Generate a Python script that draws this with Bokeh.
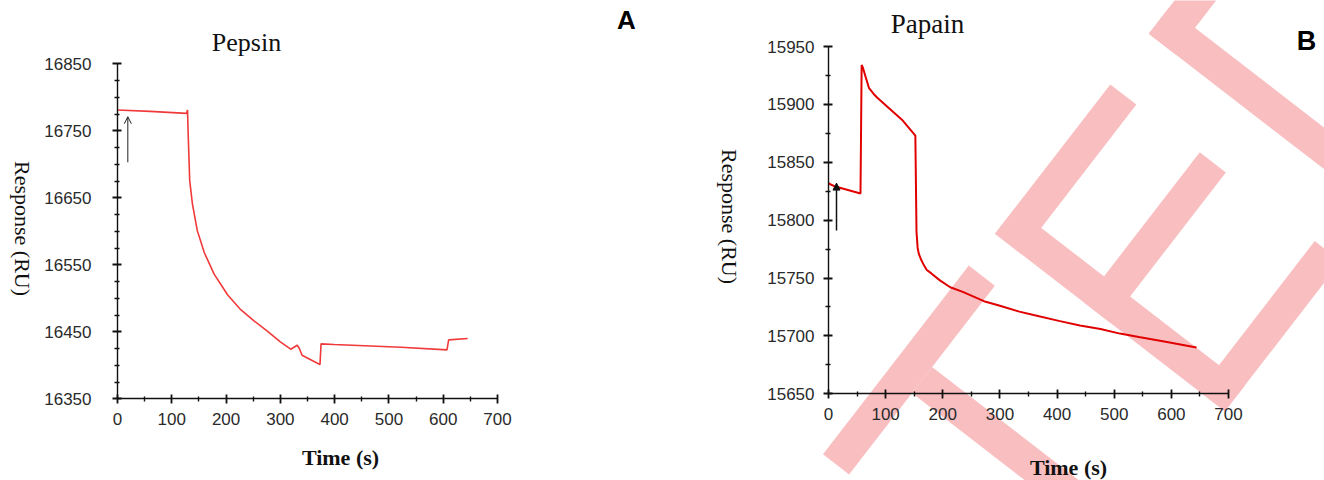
import math
from bokeh.plotting import figure
from bokeh.layouts import row
from bokeh.models import (Label, PolyAnnotation, Arrow, OpenHead, NormalHead,
                          FixedTicker, Range1d, BasicTickFormatter, LinearAxis)
from bokeh.embed import file_html
from bokeh.resources import INLINE

# ---------------- data ----------------
pepsin_time = [0, 60, 127, 129, 130, 133, 138, 147, 160, 178, 203, 227, 252, 276,
               300, 319, 331, 335, 340, 371, 373, 375, 399, 522, 607, 610, 645]
pepsin_resp = [16781, 16779, 16776, 16781, 16750, 16676, 16641, 16601, 16568, 16536,
               16505, 16483, 16466, 16451, 16435, 16424, 16430, 16425, 16415, 16402,
               16401, 16432, 16431, 16427, 16423, 16438, 16440]

papain_time = [0, 3, 12, 56, 58, 60, 66, 71, 79, 85, 103, 130, 152, 154, 156, 158,
               162, 166, 172, 180, 195, 213, 235, 272, 300, 334, 359, 403, 440, 476,
               510, 543, 590, 644]
papain_resp = [15832, 15831, 15829, 15823, 15934, 15932, 15922, 15914, 15909, 15906,
               15898, 15886, 15873, 15790, 15776, 15771, 15766, 15762, 15757, 15754,
               15748, 15742, 15738, 15730, 15726, 15721, 15718, 15713, 15709, 15706,
               15702, 15699, 15695, 15690]

pepsin_arrow = dict(x=19, y0=16703, y1=16771)
papain_arrow = dict(x=14, y0=15791, y1=15832)

time_ticks = [0, 100, 200, 300, 400, 500, 600, 700]
time_minor = [50, 150, 250, 350, 450, 550, 650]
pepsin_ticks = [16350, 16450, 16550, 16650, 16750, 16850]
pepsin_minor = [16375, 16400, 16425, 16475, 16500, 16525, 16575, 16600, 16625,
                16675, 16700, 16725, 16775, 16800, 16825]
papain_ticks = [15650, 15700, 15750, 15800, 15850, 15900, 15950]
papain_minor = [15675, 15725, 15775, 15825, 15875, 15925]

TICK_FONT = "Liberation Sans"
SERIF = "Liberation Serif"
H = 480          # canvas height
TOP, BOT = 0, H


def lin(v0, p0, v1, p1, p):
    return v0 + (p - p0) * (v1 - v0) / (p1 - p0)


def make_panel(cx0, width, xv, xpx, yv, ypx, yticks, yminor, ystandoff):
    """xv/yv: data ends; xpx/ypx: where those ends sit on the page."""
    cx1 = cx0 + width
    xr = Range1d(lin(xv[0], xpx[0], xv[1], xpx[1], cx0), lin(xv[0], xpx[0], xv[1], xpx[1], cx1))
    yr = Range1d(lin(yv[0], ypx[0], yv[1], ypx[1], BOT), lin(yv[0], ypx[0], yv[1], ypx[1], TOP))
    p = figure(width=width, height=H, output_backend="svg", toolbar_location=None,
               x_range=xr, y_range=yr, x_axis_type=None, y_axis_type=None,
               min_border=0, min_border_left=0, min_border_right=0,
               min_border_top=0, min_border_bottom=0)
    p.outline_line_color = None
    p.background_fill_color = "white"
    p.border_fill_color = "white"
    xa = LinearAxis(fixed_location=yv[0], bounds=tuple(xv),
                    ticker=FixedTicker(ticks=time_ticks, minor_ticks=time_minor))
    ya = LinearAxis(fixed_location=xv[0], bounds=tuple(yv),
                    ticker=FixedTicker(ticks=yticks, minor_ticks=yminor),
                    formatter=BasicTickFormatter(use_scientific=False))
    for ax in (xa, ya):
        ax.axis_line_color = "#111111"
        ax.axis_line_width = 1.4
        ax.major_tick_line_color = "#111111"
        ax.major_tick_line_width = 1.8
        ax.minor_tick_line_color = "#111111"
        ax.minor_tick_line_width = 1.4
        ax.major_tick_in = 4
        ax.major_tick_out = 5
        ax.minor_tick_in = 2
        ax.minor_tick_out = 3
        ax.major_label_text_font = TICK_FONT
        ax.major_label_text_font_size = "17px"
        ax.major_label_text_color = "#2a2a2a"
    xa.major_label_standoff = 9
    ya.major_label_standoff = ystandoff
    p.add_layout(xa, "below")
    p.add_layout(ya, "left")

    def lab(X, Y, **kw):
        return Label(x=X - cx0, y=BOT - Y, x_units="screen", y_units="screen", **kw)
    return p, lab


# ---------------- panel A (Pepsin) ----------------
A0, B0 = 0, 662
pa, lab_a = make_panel(A0, 662, (0, 700), (117, 497), (16350, 16850), (398.3, 63.3),
                       pepsin_ticks, pepsin_minor, 21)
pa.line(pepsin_time, pepsin_resp, line_color="#f03a3a", line_width=1.6)
pa.add_layout(Arrow(end=OpenHead(size=7, line_width=1, line_color="#222222"),
                    x_start=pepsin_arrow["x"], y_start=pepsin_arrow["y0"],
                    x_end=pepsin_arrow["x"], y_end=pepsin_arrow["y1"],
                    line_color="#222222", line_width=1))
pa.add_layout(lab_a(246, 42, text="Pepsin", text_align="center", text_baseline="alphabetic",
                    text_font=SERIF, text_font_size="26px", text_color="#111111"))
pa.add_layout(lab_a(340, 457, text="Time (s)", text_align="center", text_baseline="alphabetic",
                    text_font=SERIF, text_font_size="22px", text_font_style="bold",
                    text_color="#111111"))
pa.add_layout(lab_a(22, 228, text="Response (RU)", text_align="center", text_baseline="middle",
                    angle=-math.pi / 2, text_font=SERIF, text_font_size="22px",
                    text_color="#111111"))
pa.add_layout(lab_a(626, 19, text="A", text_align="center", text_baseline="alphabetic",
                    text_font="Liberation Sans", text_font_size="26px", text_font_style="bold",
                    text_color="#000000"))

# ---------------- panel B (Papain) ----------------
pb, lab_b = make_panel(B0, 662, (0, 700), (828, 1228), (15650, 15950), (393.3, 46),
                       papain_ticks, papain_minor, 9)

# watermark (decoration), page-pixel geometry
U = (0.61, -0.79)
V = (0.79, 0.61)
W = 33


def rect(P, d, L, n, w=W):
    p1 = (P[0] + L * d[0], P[1] + L * d[1])
    p2 = (p1[0] + w * n[0], p1[1] + w * n[1])
    p3 = (P[0] + w * n[0], P[1] + w * n[1])
    return [P, p1, p2, p3]


def neg(d):
    return (-d[0], -d[1])


def add(P, d, s):
    return (P[0] + s * d[0], P[1] + s * d[1])


T_TOP = (968.3, 265.0)
T_STEM = (931.6, 366.5)
E_CORNER = (994.5, 233.3)
D_CORNER = (1148.3, 33.3)
shapes = [
    rect(T_TOP, neg(U), 239, V),
    rect(T_STEM, V, 260, neg(U)),
    rect(E_CORNER, V, 291, U),
    rect(E_CORNER, U, 189, V),
    rect(add(E_CORNER, V, 112.5), U, 190, V),
    rect(add(E_CORNER, V, 291), U, 190, neg(V)),
    rect(D_CORNER, V, 320, U),
    rect(D_CORNER, U, 120, V),
]
for poly in shapes:
    pb.add_layout(PolyAnnotation(xs=[q[0] - B0 for q in poly], ys=[BOT - q[1] for q in poly],
                                 xs_units="screen", ys_units="screen",
                                 fill_color="#f9bec0", fill_alpha=1.0, line_color=None,
                                 level="underlay"))

pb.line(papain_time, papain_resp, line_color="#e00000", line_width=2)
pb.add_layout(Arrow(end=NormalHead(size=7, fill_color="#111111", line_color="#111111"),
                    x_start=papain_arrow["x"], y_start=papain_arrow["y0"],
                    x_end=papain_arrow["x"], y_end=papain_arrow["y1"],
                    line_color="#111111", line_width=1.5))
pb.add_layout(lab_b(927, 23, text="Papain", text_align="center", text_baseline="alphabetic",
                    text_font=SERIF, text_font_size="27px", text_color="#111111"))
pb.add_layout(lab_b(1068, 467, text="Time (s)", text_align="center", text_baseline="alphabetic",
                    text_font=SERIF, text_font_size="22px", text_font_style="bold",
                    text_color="#111111"))
pb.add_layout(lab_b(729, 216, text="Response (RU)", text_align="center", text_baseline="middle",
                    angle=-math.pi / 2, text_font=SERIF, text_font_size="22px",
                    text_color="#111111"))
pb.add_layout(lab_b(1306, 40, text="B", text_align="center", text_baseline="alphabetic",
                    text_font="Liberation Sans", text_font_size="27px", text_font_style="bold",
                    text_color="#000000"))

layout = row(pa, pb)
open("out.html", "w").write(file_html(layout, INLINE))
